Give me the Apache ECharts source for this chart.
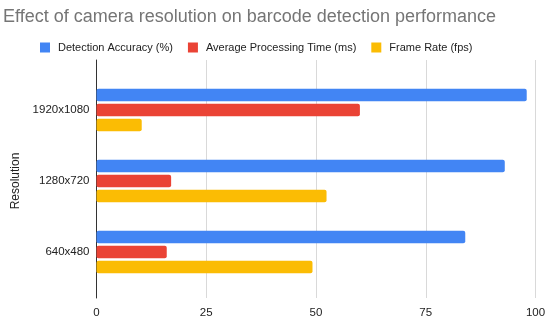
<!DOCTYPE html>
<html><head><meta charset="utf-8">
<script src="https://cdn.jsdelivr.net/npm/echarts@6/dist/echarts.min.js"></script>
<style>html,body{margin:0;padding:0;background:#fff}#c{width:550px;height:322px}</style>
</head><body><div id="c"></div>
<script>
const categories = ["1920x1080", "1280x720", "640x480"];
const detectionAccuracy = [98, 93, 84];
const avgProcessingTime = [60, 17, 16];
const frameRate = [10.3, 52.4, 49.2];
const xTicks = [0, 25, 50, 75, 100];
const seriesNames = ["Detection Accuracy (%)", "Average Processing Time (ms)", "Frame Rate (fps)"];
const colors = ["#4285F4", "#EA4335", "#FBBC04"];

const font = "Liberation Sans, Arial, sans-serif";
const chart = echarts.init(document.getElementById('c'), null, {renderer: 'canvas'});
const mk = (name, data, color) => ({
  name, type: 'bar', data, xAxisIndex: 1, yAxisIndex: 1,
  barWidth: 12.5, barGap: '20%', itemStyle: {color, borderRadius: 2}, animation: false
});
chart.setOption({
  animation: false,
  color: colors,
  title: {text: "Effect of camera resolution on barcode detection performance", left: -2, top: 3,
    textStyle: {fontFamily: font, fontSize: 18, fontWeight: 'normal', color: '#757575'}},
  legend: {left: 35, top: 37, icon: 'rect', itemWidth: 10, itemHeight: 10, itemGap: 15,
    data: seriesNames, textStyle: {fontFamily: font, fontSize: 11, color: '#222', padding: [0, 0, 0, 3]}},
  grid: [
    {left: 96.5, right: 14.5, top: 60, bottom: 24},
    {left: 96.5, right: 14.5, top: 74.5, bottom: 34.5}
  ],
  xAxis: [
    {gridIndex: 0, type: 'value', min: xTicks[0], max: xTicks[xTicks.length-1], interval: 25,
      axisLine: {show: false}, axisTick: {show: false},
      splitLine: {lineStyle: {color: '#d9d9d9', width: 1}},
      axisLabel: {margin: 9, fontFamily: font, fontSize: 11.5, color: '#222'}},
    {gridIndex: 1, type: 'value', min: xTicks[0], max: xTicks[xTicks.length-1], show: false,
      splitLine: {show: false}}
  ],
  yAxis: [
    {gridIndex: 0, type: 'value', axisLine: {show: true, lineStyle: {color: '#333', width: 1}},
      axisLabel: {show: false}, axisTick: {show: false}, splitLine: {show: false}},
    {gridIndex: 1, type: 'category', data: categories, inverse: true,
      axisLine: {show: false}, axisTick: {show: false}, splitLine: {show: false},
      axisLabel: {margin: 7, fontFamily: font, fontSize: 11.5, color: '#222'},
      name: 'Resolution', nameLocation: 'middle', nameGap: 70, nameRotate: 90,
      nameTextStyle: {fontFamily: font, fontSize: 12, color: '#222'}}
  ],
  series: [
    mk(seriesNames[0], detectionAccuracy, colors[0]),
    mk(seriesNames[1], avgProcessingTime, colors[1]),
    mk(seriesNames[2], frameRate, colors[2])
  ]
});
</script></body></html>
